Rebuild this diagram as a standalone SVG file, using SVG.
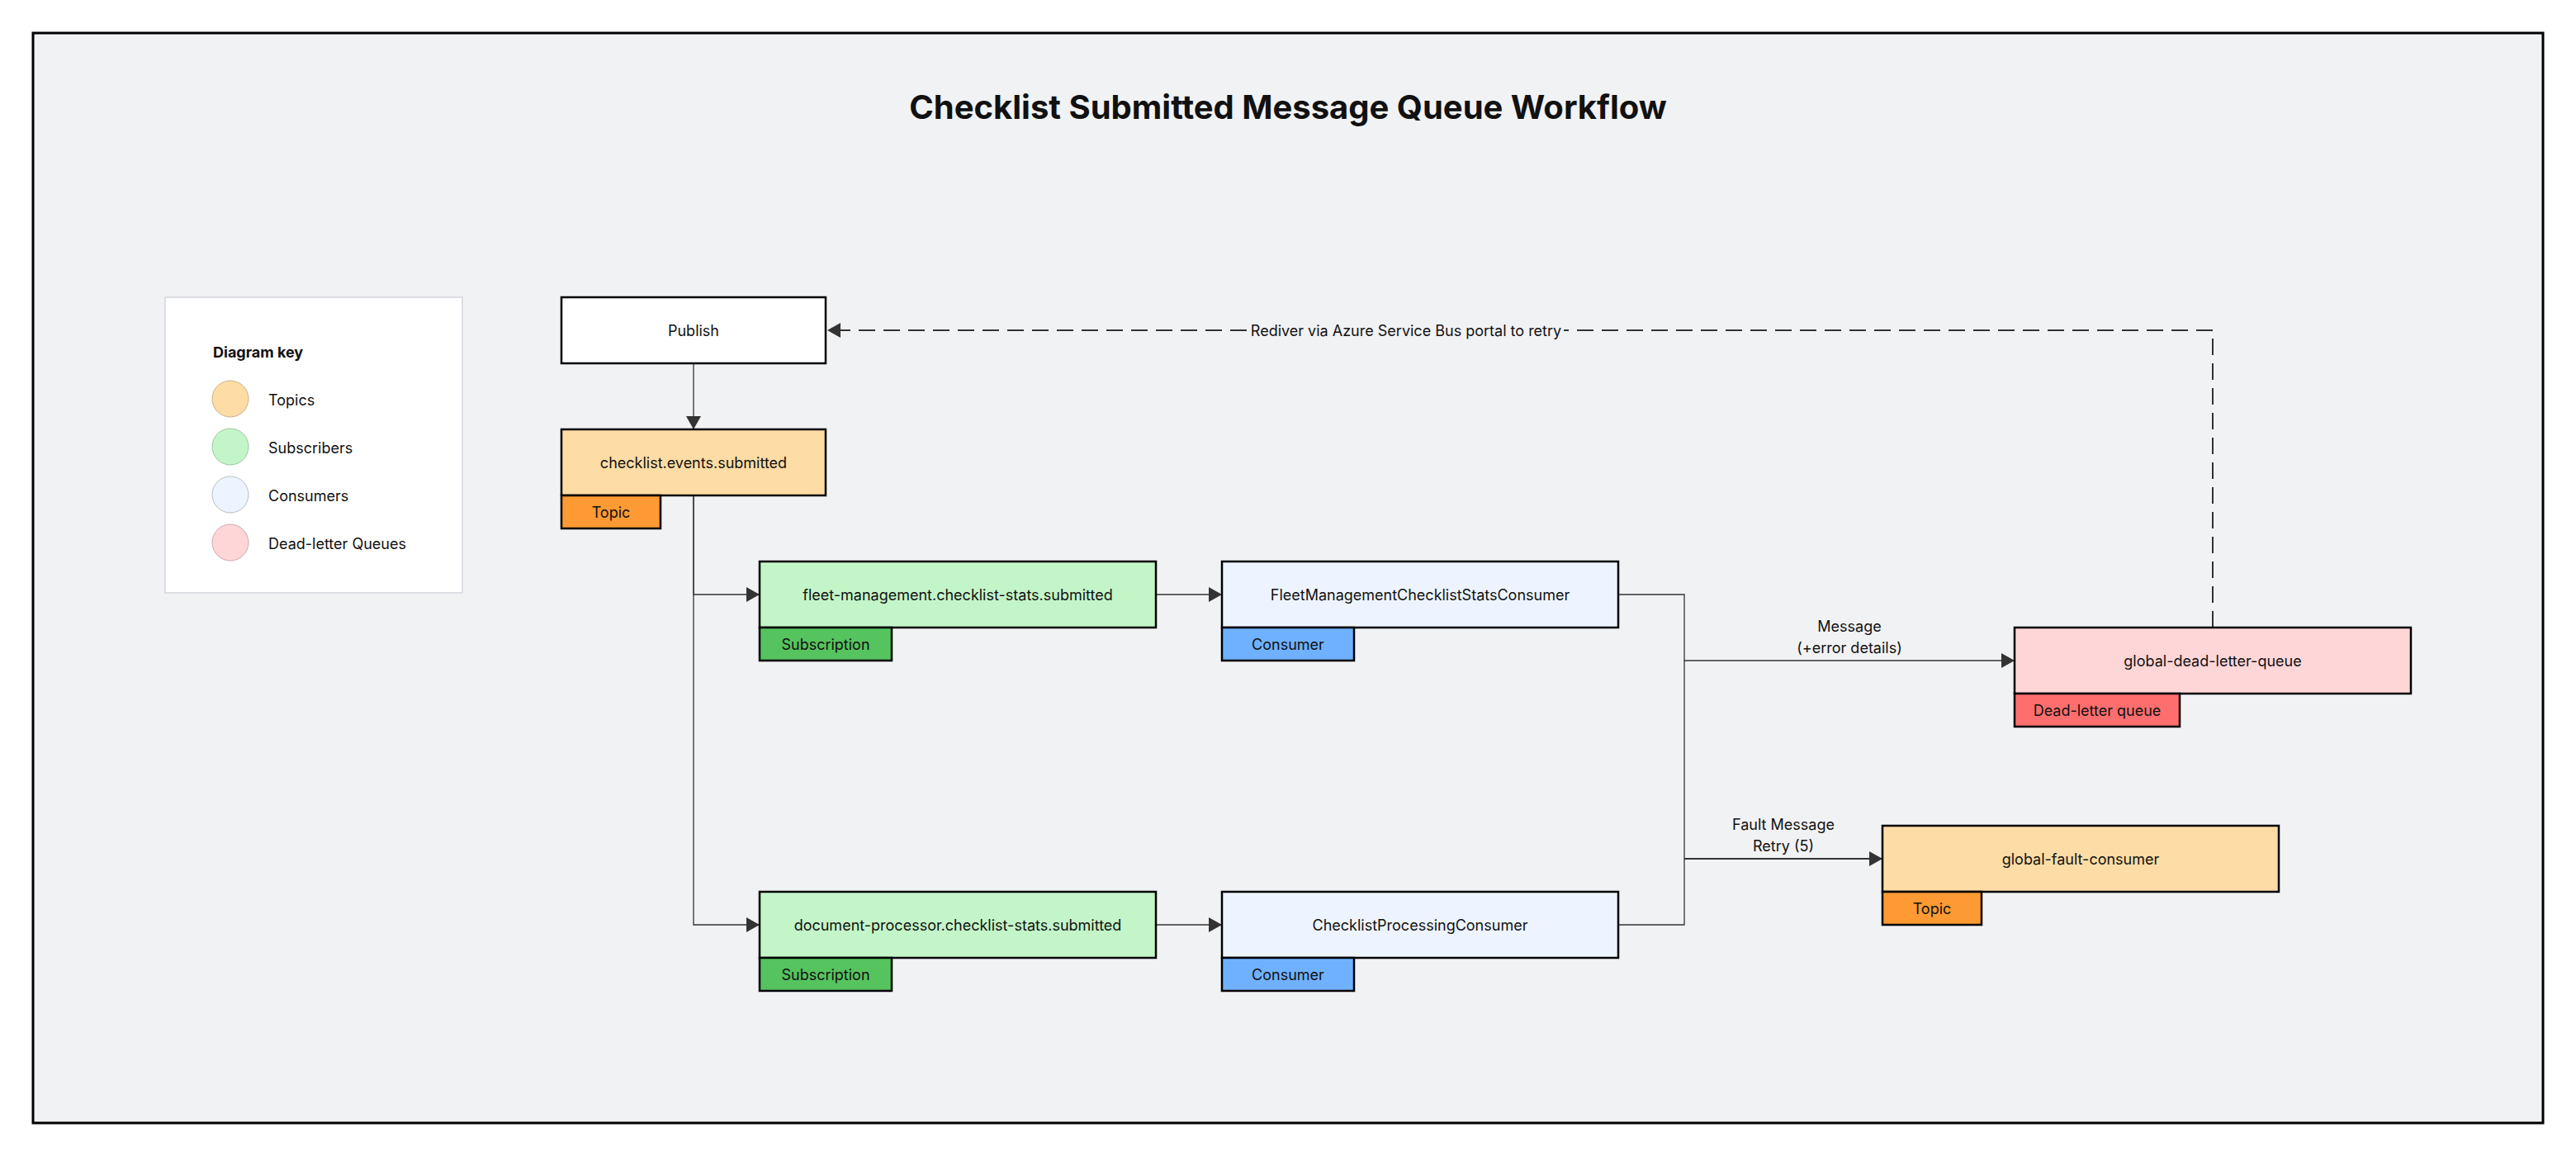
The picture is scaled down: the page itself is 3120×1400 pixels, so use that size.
<svg xmlns="http://www.w3.org/2000/svg" width="3120" height="1400" viewBox="0 0 3120 1400">
<style>
text{font-family:Inter,"Noto Sans","Liberation Sans",sans-serif;fill:#111;}
.title{font-size:40px;font-weight:700;text-anchor:middle;}
.lbl{font-size:18px;text-anchor:middle;dominant-baseline:central;}
.key{font-size:18px;dominant-baseline:central;}
.keyh{font-size:18px;font-weight:700;}
.box{stroke:#000;stroke-width:2.5;}
.topic{fill:#fddca5;}
.topictag{fill:#fd9a33;}
.sub{fill:#c3f5c8;}
.subtag{fill:#55c35e;}
.cons{fill:#edf4ff;}
.constag{fill:#6fb1ff;}
.dlq{fill:#ffd6d8;}
.dlqtag{fill:#ff6e6e;}
.edge{fill:none;stroke:#333;stroke-width:1.3;}
.edge2{fill:none;stroke:#333;stroke-width:2;}
.dash{fill:none;stroke:#333;stroke-width:2;stroke-dasharray:20 10;}
</style>
<defs>
<marker id="arr" markerUnits="userSpaceOnUse" markerWidth="18" markerHeight="18" viewBox="0 0 16 18" refX="16" refY="9" orient="auto">
<path d="M0,0 L16,9 L0,18 Z" fill="#333"/>
</marker>
</defs>
<rect x="0" y="0" width="3120" height="1400" fill="#ffffff"/>
<rect x="40" y="40" width="3040" height="1320" fill="#f1f2f4" stroke="#000" stroke-width="3"/>
<text class="title" x="1560" y="144">Checklist Submitted Message Queue Workflow</text>

<g id="legend">
<rect x="200" y="360" width="360" height="358" fill="#fff" stroke="#dcdee3" stroke-width="2"/>
<text class="keyh" x="258" y="433">Diagram key</text>
<circle cx="279" cy="483" r="22" fill="#fddca5" stroke="#c9b08a" stroke-width="1"/>
<text class="key" x="325" y="484">Topics</text>
<circle cx="279" cy="541" r="22" fill="#c3f5c8" stroke="#9cc4a0" stroke-width="1"/>
<text class="key" x="325" y="542">Subscribers</text>
<circle cx="279" cy="599" r="22" fill="#edf4ff" stroke="#b8bcc4" stroke-width="1"/>
<text class="key" x="325" y="600">Consumers</text>
<circle cx="279" cy="657" r="22" fill="#ffd6d8" stroke="#cfa6a9" stroke-width="1"/>
<text class="key" x="325" y="658">Dead-letter Queues</text>
</g>

<g id="connectors">
<path class="edge" d="M840,440 L840,520" marker-end="url(#arr)"/>
<path class="edge" d="M840,600 L840,720 L920,720" marker-end="url(#arr)"/>
<path class="edge" d="M840,600 L840,1120 L920,1120" marker-end="url(#arr)"/>
<path class="edge" d="M1400,720 L1480,720" marker-end="url(#arr)"/>
<path class="edge" d="M1400,1120 L1480,1120" marker-end="url(#arr)"/>
<path class="edge" d="M1960,720 L2040,720 L2040,800 L2440,800" marker-end="url(#arr)"/>
<path class="edge" d="M1960,1120 L2040,1120 L2040,1040"/>
<path class="edge2" d="M2040,1040 L2280,1040" marker-end="url(#arr)"/>
<path class="edge" d="M2040,800 L2040,1040"/>
<path class="dash" d="M2680,760 L2680,400 L1002,400" marker-end="url(#arr)"/>
<rect x="1512" y="388" width="382" height="24" fill="#f1f2f4"/>
<text class="lbl" x="1703" y="400">Rediver via Azure Service Bus portal to retry</text>
<text class="lbl" x="2240" y="758">Message</text>
<text class="lbl" x="2240" y="784">(+error details)</text>
<text class="lbl" x="2160" y="998">Fault Message</text>
<text class="lbl" x="2160" y="1024">Retry (5)</text>
</g>

<g id="publish">
<rect class="box" x="680" y="360" width="320" height="80" fill="#fff"/>
<text class="lbl" x="840" y="400">Publish</text>
</g>

<g id="checklist-events-submitted">
<rect class="box topic" x="680" y="520" width="320" height="80"/>
<text class="lbl" x="840" y="560">checklist.events.submitted</text>
<rect class="box topictag" x="680" y="600" width="120" height="40"/>
<text class="lbl" x="740" y="620">Topic</text>
</g>

<g id="fleet-management-subscription">
<rect class="box sub" x="920" y="680" width="480" height="80"/>
<text class="lbl" x="1160" y="720">fleet-management.checklist-stats.submitted</text>
<rect class="box subtag" x="920" y="760" width="160" height="40"/>
<text class="lbl" x="1000" y="780">Subscription</text>
</g>

<g id="fleet-management-consumer">
<rect class="box cons" x="1480" y="680" width="480" height="80"/>
<text class="lbl" x="1720" y="720">FleetManagementChecklistStatsConsumer</text>
<rect class="box constag" x="1480" y="760" width="160" height="40"/>
<text class="lbl" x="1560" y="780">Consumer</text>
</g>

<g id="document-processor-subscription">
<rect class="box sub" x="920" y="1080" width="480" height="80"/>
<text class="lbl" x="1160" y="1120">document-processor.checklist-stats.submitted</text>
<rect class="box subtag" x="920" y="1160" width="160" height="40"/>
<text class="lbl" x="1000" y="1180">Subscription</text>
</g>

<g id="checklist-processing-consumer">
<rect class="box cons" x="1480" y="1080" width="480" height="80"/>
<text class="lbl" x="1720" y="1120">ChecklistProcessingConsumer</text>
<rect class="box constag" x="1480" y="1160" width="160" height="40"/>
<text class="lbl" x="1560" y="1180">Consumer</text>
</g>

<g id="global-dead-letter-queue">
<rect class="box dlq" x="2440" y="760" width="480" height="80"/>
<text class="lbl" x="2680" y="800">global-dead-letter-queue</text>
<rect class="box dlqtag" x="2440" y="840" width="200" height="40"/>
<text class="lbl" x="2540" y="860">Dead-letter queue</text>
</g>

<g id="global-fault-consumer">
<rect class="box topic" x="2280" y="1000" width="480" height="80"/>
<text class="lbl" x="2520" y="1040">global-fault-consumer</text>
<rect class="box topictag" x="2280" y="1080" width="120" height="40"/>
<text class="lbl" x="2340" y="1100">Topic</text>
</g>
</svg>
